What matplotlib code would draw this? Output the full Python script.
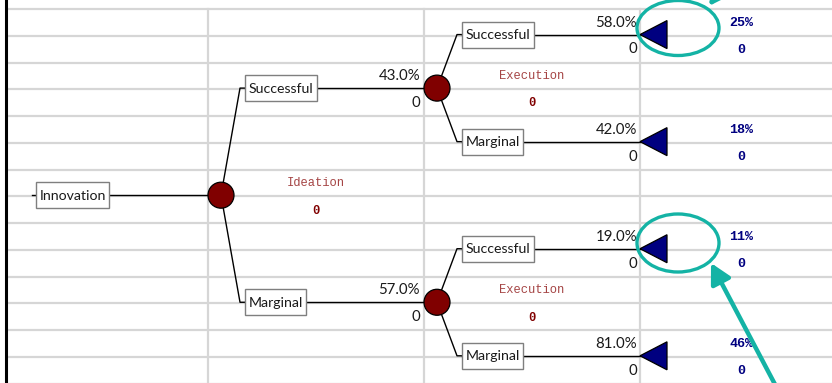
import matplotlib
matplotlib.use("Agg")
import matplotlib.pyplot as plt
from matplotlib.patches import Circle, Polygon, Ellipse, FancyArrowPatch, Rectangle

# ---- tree content ----
root_label = "Innovation"
chance_names = ["Ideation", "Execution", "Execution"]
chance_values = [0, 0, 0]
stage1_labels = ["Successful", "Marginal"]
stage1_probs = [43.0, 57.0]
stage1_values = [0, 0]
stage2_labels = [["Successful", "Marginal"], ["Successful", "Marginal"]]
stage2_probs = [[58.0, 42.0], [19.0, 81.0]]
stage2_values = [[0, 0], [0, 0]]
leaf_probs = [25, 18, 11, 46]
leaf_values = [0, 0, 0, 0]

# ---- sheet layout (pixel units) ----
W, H = 832, 383
ROW_TOP, ROW_H = 9.0, 26.77
COL_X = [208, 424, 640]
GRID = "#d6d6d6"
DARK_RED = "#800000"
NAVY = "#000080"
TEAL = "#14b3a5"
TXT = "#1a1a1a"
LABEL_FONT = "Lato"
MONO = "Liberation Mono"

fig = plt.figure(figsize=(W / 100, H / 100), dpi=100)
ax = fig.add_axes([0, 0, 1, 1])
ax.set_xlim(0, W)
ax.set_ylim(H, 0)
ax.axis("off")
renderer = fig.canvas.get_renderer()


def line_y(i):
    return ROW_TOP + i * ROW_H


# spreadsheet grid
n_lines = int((H - ROW_TOP) / ROW_H) + 2
for i in range(n_lines):
    ax.plot([7, W], [line_y(i), line_y(i)], color=GRID, lw=1.6, zorder=0)
for x in COL_X:
    ax.plot([x, x], [ROW_TOP, H], color=GRID, lw=1.6, zorder=0)
ax.plot([6.3, 6.3], [0, H], color="black", lw=2.2, zorder=5)


def node_y(i):
    return line_y(i) - 1.2


def label_box(x, y, text):
    """Boxed branch label whose left edge sits at x; returns the right edge."""
    t = ax.text(x + 3.5, y + 0.5, text, ha="left", va="center", fontsize=10.2,
                family=LABEL_FONT, color=TXT, zorder=4)
    w = t.get_window_extent(renderer=renderer).width
    bw = w + 7
    ax.add_patch(Rectangle((x, y - 13), bw, 26, fc="white", ec="#7f7f7f",
                           lw=1.0, zorder=3.5))
    return x + bw


def cell_numbers(xr, y, prob, val):
    ax.text(xr, y - ROW_H / 2 + 1.5, f"{prob:.1f}%", ha="right", va="center",
            fontsize=10.8, family=LABEL_FONT, color=TXT, zorder=4)
    ax.text(xr, y + ROW_H / 2 + 1.5, f"{val}", ha="right", va="center",
            fontsize=10.8, family=LABEL_FONT, color=TXT, zorder=4)


def chance_node(x, y, name, val, col_left):
    ax.add_patch(Circle((x, y), 13, fc=DARK_RED, ec="black", lw=0.9, zorder=3))
    cx = col_left + 108
    ax.text(cx, y - ROW_H / 2 + 1.5, name, ha="center", va="center",
            fontsize=8.7, family=MONO, color="#a54545", zorder=4)
    ax.text(cx, y + ROW_H / 2 + 2, f"{val}", ha="center", va="center",
            fontsize=8.7, family=MONO, weight="bold", color=DARK_RED, zorder=4)


def branch(x0, y0, x1, y1, box_x):
    ax.plot([x0, x1, box_x], [y0, y1, y1], color="black", lw=1.0, zorder=2)


# root
root_y = node_y(7)
root_node_x = COL_X[0] + 13
ax.plot([32, root_node_x], [root_y, root_y], color="black", lw=1.0, zorder=2)
label_box(36, root_y, root_label)
chance_node(root_node_x, root_y, chance_names[0], chance_values[0], COL_X[0])

leaf_idx = 0
for i in range(2):
    y1 = node_y(3 + 8 * i)
    bx1 = COL_X[0] + 37
    branch(root_node_x, root_y, bx1 - 5, y1, bx1)
    node2_x = COL_X[1] + 13
    ax.plot([bx1, node2_x], [y1, y1], color="black", lw=1.0, zorder=2)
    label_box(bx1, y1, stage1_labels[i])
    cell_numbers(COL_X[1] - 4, y1, stage1_probs[i], stage1_values[i])
    chance_node(node2_x, y1, chance_names[1 + i], chance_values[1 + i], COL_X[1])
    for j in range(2):
        y2 = node_y(1 + 8 * i + 4 * j)
        bx2 = COL_X[1] + 38
        branch(node2_x, y1, bx2 - 5, y2, bx2)
        ax.plot([bx2, COL_X[2]], [y2, y2], color="black", lw=1.0, zorder=2)
        label_box(bx2, y2, stage2_labels[i][j])
        cell_numbers(COL_X[2] - 3, y2, stage2_probs[i][j], stage2_values[i][j])
        # terminal node
        tip = COL_X[2]
        ax.add_patch(Polygon([(tip, y2), (tip + 27, y2 - 14), (tip + 27, y2 + 14)],
                             closed=True, fc=NAVY, ec="black", lw=0.9, zorder=3))
        ax.text(741, y2 - ROW_H / 2 + 1.5, f"{leaf_probs[leaf_idx]}%", ha="center",
                va="center", fontsize=9.6, family=MONO, weight="bold", color=NAVY, zorder=4)
        ax.text(741, y2 + ROW_H / 2 + 2, f"{leaf_values[leaf_idx]}", ha="center",
                va="center", fontsize=9.6, family=MONO, weight="bold", color=NAVY, zorder=4)
        leaf_idx += 1

# highlight callouts
for cy, hh in [(28, 55), (243, 58)]:
    ax.add_patch(Ellipse((678, cy), 82, hh, fill=False, ec=TEAL, lw=2.4, zorder=6))

for start, end in [((745, -45), (709, 6)), ((779, 392), (711, 263))]:
    ax.add_patch(FancyArrowPatch(start, end, arrowstyle="-|>,head_length=0.6,head_width=0.32",
                                 mutation_scale=20, color=TEAL, lw=3.2, zorder=6,
                                 shrinkA=0, shrinkB=0))

fig.savefig("out.png", dpi=100)
